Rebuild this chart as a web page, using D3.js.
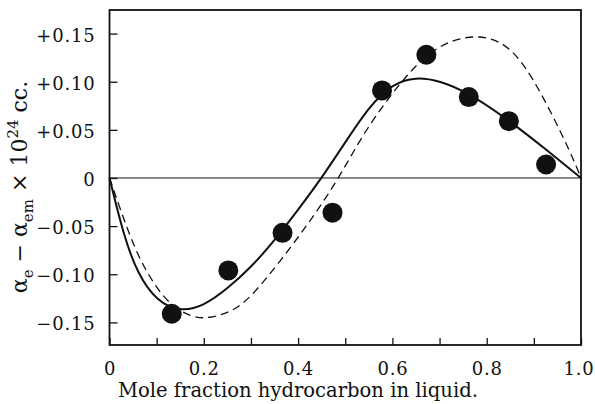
<!DOCTYPE html>
<html>
<head>
<meta charset="utf-8">
<script src="https://cdn.jsdelivr.net/npm/d3@7"></script>
<style>
  html, body { margin: 0; padding: 0; background: #fff; }
  svg { display: block; }
  text { font-family: "DejaVu Serif", "Liberation Serif", serif; fill: #111; }
</style>
</head>
<body>
<div id="chart"></div>
<script>
// measured points (mole fraction, alpha_e - alpha_em)
const pointX = [0.132, 0.252, 0.367, 0.473, 0.578, 0.672, 0.762, 0.847, 0.926];
const pointY = [-0.141, -0.096, -0.057, -0.036, 0.091, 0.128, 0.084, 0.059, 0.014];

// solid curve
const solidX = [0, 0.03, 0.06, 0.10, 0.15, 0.20, 0.25, 0.30, 0.35, 0.40, 0.45, 0.50, 0.55, 0.60, 0.65, 0.70, 0.76, 0.85, 0.93, 1];
const solidY = [0, -0.060, -0.100, -0.128, -0.139, -0.133, -0.115, -0.093, -0.065, -0.033, 0, 0.037, 0.074, 0.098, 0.105, 0.101, 0.089, 0.059, 0.028, 0];

// dashed curve
const dashX = [0, 0.045, 0.08, 0.126, 0.176, 0.21, 0.26, 0.30, 0.363, 0.427, 0.487, 0.54, 0.611, 0.667, 0.717, 0.779, 0.837, 0.88, 0.922, 0.958, 0.986, 1];
const dashY = [0, -0.064, -0.100, -0.132, -0.145, -0.146, -0.139, -0.124, -0.086, -0.044, 0, 0.048, 0.096, 0.126, 0.142, 0.149, 0.141, 0.118, 0.082, 0.047, 0.017, 0];

const xTicks = [0, 0.1, 0.2, 0.3, 0.4, 0.5, 0.6, 0.7, 0.8, 0.9, 1.0];
const xTickLabels = ["0", "", "0.2", "", "0.4", "", "0.6", "", "0.8", "", "1.0"];
const yTicks = [-0.15, -0.10, -0.05, 0, 0.05, 0.10, 0.15];
const yTickLabels = ["\u22120.15", "\u22120.10", "\u22120.05", "0", "+0.05", "+0.10", "+0.15"];

const xTitle = "Mole fraction hydrocarbon in liquid.";

const width = 595;
const height = 404;
const plot = { left: 109.5, right: 581, top: 10, bottom: 345 };
const ink = "#111";

const x = d3.scaleLinear().domain([0, 1]).range([plot.left, plot.right]);
const y = d3.scaleLinear().domain([-0.1735, 0.1745]).range([plot.bottom, plot.top]);

const svg = d3.select("#chart").append("svg")
  .attr("width", width)
  .attr("height", height);

svg.append("rect").attr("width", width).attr("height", height).attr("fill", "#fff");

// zero line
svg.append("line")
  .attr("x1", plot.left).attr("x2", plot.right)
  .attr("y1", y(0)).attr("y2", y(0))
  .attr("stroke", ink).attr("stroke-width", 1);

// curves
const line = d3.line()
  .x((d) => x(d[0]))
  .y((d) => y(d[1]))
  .curve(d3.curveBasis);

svg.append("path")
  .datum(dashX.map((v, i) => [v, dashY[i]]))
  .attr("d", line)
  .attr("fill", "none")
  .attr("stroke", ink)
  .attr("stroke-width", 1.3)
  .attr("stroke-dasharray", "8,5");

svg.append("path")
  .datum(solidX.map((v, i) => [v, solidY[i]]))
  .attr("d", line)
  .attr("fill", "none")
  .attr("stroke", ink)
  .attr("stroke-width", 2);

// points
svg.append("g").selectAll("circle")
  .data(pointX.map((v, i) => [v, pointY[i]]))
  .join("circle")
  .attr("cx", (d) => x(d[0]))
  .attr("cy", (d) => y(d[1]))
  .attr("r", 10)
  .attr("fill", ink);

// axes with inward ticks
const yAxis = d3.axisLeft(y)
  .tickValues(yTicks)
  .tickSize(-8)
  .tickPadding(14)
  .tickFormat((d, i) => yTickLabels[i]);

const yAxisG = svg.append("g")
  .attr("transform", `translate(${plot.left},0)`)
  .call(yAxis);

const xAxis = d3.axisBottom(x)
  .tickValues(xTicks)
  .tickSize(-7)
  .tickPadding(17)
  .tickFormat((d, i) => xTickLabels[i]);

const xAxisG = svg.append("g")
  .attr("transform", `translate(0,${plot.bottom})`)
  .call(xAxis);

[yAxisG, xAxisG].forEach((g) => {
  g.select(".domain").remove();
  g.selectAll(".tick line").attr("stroke", ink).attr("stroke-width", 1.3);
  g.selectAll(".tick text")
    .attr("fill", ink)
    .style("font-size", "18px")
    .style("letter-spacing", "0.8px");
});
yAxisG.selectAll(".tick text").attr("dy", "0.42em");
// keep the last label inside the page
xAxisG.selectAll(".tick text")
  .filter((d) => d === 1)
  .attr("text-anchor", "end")
  .attr("x", 13);

// frame
svg.append("rect")
  .attr("x", plot.left).attr("y", plot.top)
  .attr("width", plot.right - plot.left)
  .attr("height", plot.bottom - plot.top)
  .attr("fill", "none")
  .attr("stroke", ink)
  .attr("stroke-width", 1.8);

// x title
const xt = svg.append("text")
  .attr("x", 118)
  .attr("y", 397)
  .style("font-size", "17px")
  .text(xTitle);
const xtLen = xt.node().getComputedTextLength();
xt.style("font-size", `${(17 * 360 / xtLen).toFixed(2)}px`);

// y title
function yTitle(size) {
  const sub = Math.round(size * 0.68);
  const t = svg.append("text")
    .attr("transform", "translate(27,187) rotate(-90)")
    .attr("text-anchor", "middle")
    .style("font-size", `${size}px`);
  t.append("tspan").text("\u03b1");
  t.append("tspan").attr("dy", size * 0.25).style("font-size", `${sub}px`).text("e");
  t.append("tspan").attr("dy", -size * 0.25).text(" \u2212 \u03b1");
  t.append("tspan").attr("dy", size * 0.25).style("font-size", `${sub}px`).text("em");
  t.append("tspan").attr("dy", -size * 0.25).text(" \u00d7 10");
  t.append("tspan").attr("dy", -size * 0.42).style("font-size", `${sub}px`).text("24");
  t.append("tspan").attr("dy", size * 0.42).text(" cc.");
  return t;
}
let yt = yTitle(16);
const ytLen = yt.node().getBBox().width;
yt.remove();
yTitle(16 * 213 / ytLen);
</script>
</body>
</html>
